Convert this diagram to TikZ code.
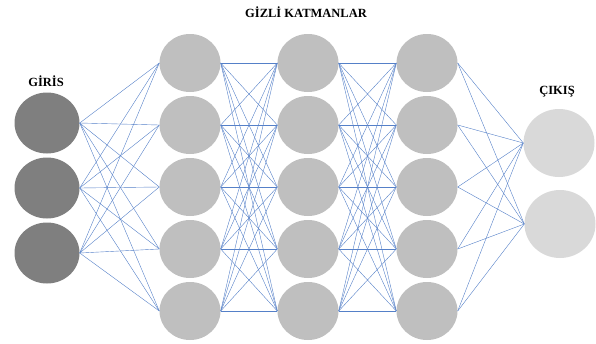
\documentclass[tikz,border=0pt]{standalone}
\usepackage{fontspec}
\setmainfont{Liberation Serif}
\usetikzlibrary{shapes.geometric}
\definecolor{inputgray}{HTML}{7F7F7F}
\definecolor{hiddengray}{HTML}{BFBFBF}
\definecolor{outputgray}{HTML}{D9D9D9}
\definecolor{linkblue}{HTML}{5580C8}

\begin{document}
\begin{tikzpicture}[x=1pt, y=-1pt,
		neuron/.style={ellipse, inner sep=0pt, draw=none},
		innode/.style={neuron, fill=inputgray, minimum width=65pt, minimum height=61pt},
		hidnode/.style={neuron, fill=hiddengray, minimum width=61pt, minimum height=58pt},
		outnode/.style={neuron, fill=outputgray, minimum width=71pt, minimum height=68pt},
		link/.style={linkblue, line width=0.4pt},
		layertitle/.style={font=\fontsize{12.5}{14}\selectfont\bfseries}]

		% Fix the page to the size of the reference
		\useasboundingbox (0,0) rectangle (596,343);

		% Input layer
		\foreach \i/\y in {1/123, 2/188, 3/253} {
				\node[innode] (in-\i) at (47,\y) {};
			}

		% Hidden layers (three columns of five)
		\foreach \l/\x in {1/190, 2/308, 3/427} {
				\foreach \i/\y in {1/63, 2/125, 3/187, 4/249, 5/311} {
						\node[hidnode] (h\l-\i) at (\x,\y) {};
					}
			}

		% Output layer
		\node[outnode] (out-1) at (559,143) {};
		\node[outnode] (out-2) at (560,224) {};

		% Connections: input -> first hidden layer
		\foreach \i in {1,...,3} {
				\foreach \j in {1,...,5} {
						\draw[link] (in-\i.east) -- (h1-\j.west);
					}
			}

		% Connections between hidden layers
		\foreach \l/\m in {1/2, 2/3} {
				\foreach \i in {1,...,5} {
						\foreach \j in {1,...,5} {
								\draw[link] (h\l-\i.east) -- (h\m-\j.west);
							}
					}
			}

		% Connections: last hidden layer -> output
		\foreach \i in {1,...,5} {
				\foreach \j in {1,2} {
						\draw[link] (h3-\i.east) -- (out-\j.west);
					}
			}

		% Layer titles
		\node[layertitle] (hidtitle) at (306,12) {GİZLİ KATMANLAR};
		\node[layertitle] (intitle) at (46,81) {GİRİS};
		\node[layertitle] (outtitle) at (557,92) {ÇIKIŞ};
	\end{tikzpicture}
\end{document}
